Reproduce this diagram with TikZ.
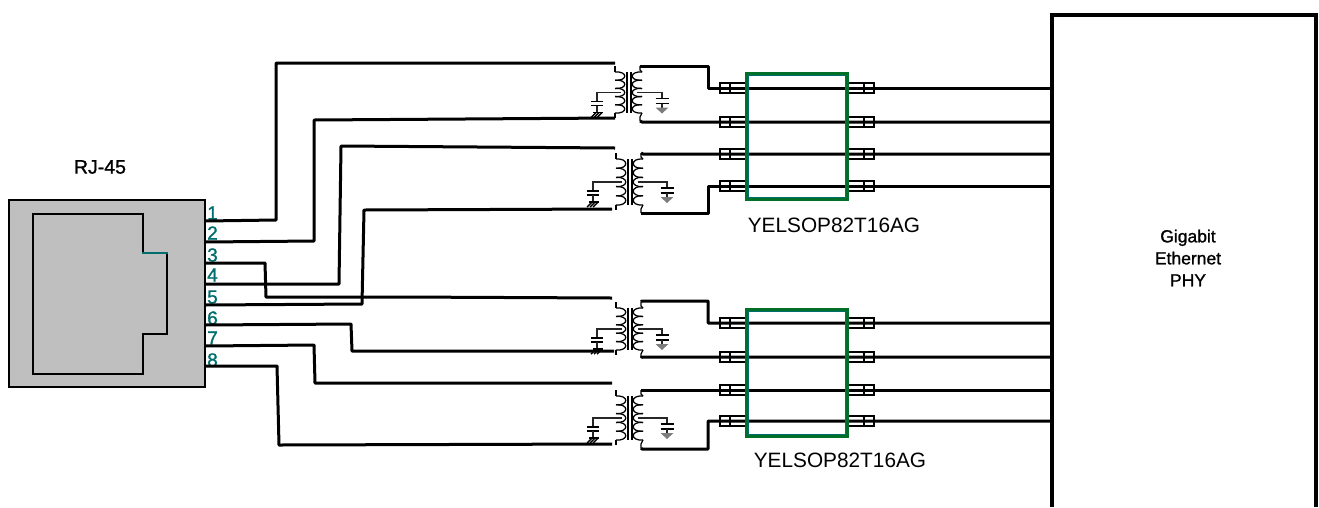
\documentclass[tikz,border=0pt]{standalone}
\usepackage{fontspec}
\setmainfont{Liberation Sans}
\newfontfamily\medfont[FakeBold=1.2]{Liberation Sans}
\definecolor{tealpin}{RGB}{0,110,110}
\definecolor{chipgreen}{RGB}{0,112,40}
\definecolor{gndgrey}{RGB}{125,125,125}
\newcommand{\xfmr}[6]{% name, core x, top y, bottom y, left tap x, right tap x
  \coordinate (#1R) at (#2+11,#3-6);
  \coordinate (#1S) at (#2+11,#4+8);
  \coordinate (#1L) at (#2-14,#3-6);
  \coordinate (#1M) at (#2-14,#4+5);
  \draw[core] (#2-2,#3) -- (#2-2,#4) (#2+2,#3) -- (#2+2,#4);
  \pgfmathsetmacro{\hh}{(#4-#3)/5}
  \foreach \k in {0,...,4}{
    \draw[coil] (#2-14,#3+\k*\hh) .. controls (#2-1,#3+\k*\hh-1) and (#2-1,#3+\k*\hh+\hh+1) .. (#2-14,#3+\k*\hh+\hh);
    \draw[coil] (#2+13,#3+\k*\hh) .. controls (#2,#3+\k*\hh-1) and (#2,#3+\k*\hh+\hh+1) .. (#2+13,#3+\k*\hh+\hh);
  }
  \draw[coil] (#1L) -- (#2-14,#3-2) -- (#2-14,#3);
  \draw[coil] (#2-14,#4) -- (#2-14,#4+2) -- (#1M);
  \draw[coil] (#1R) -- (#2+11,#3-2) -- (#2+13,#3);
  \draw[coil] (#2+13,#4) -- (#2+11,#4+4) -- (#1S);
  \coordinate (#1lt) at (#2-8,{(#3+#4)/2});
  \coordinate (#1rt) at (#2+8,{(#3+#4)/2});
  \coordinate (#1lc) at (#5,{(#3+#4)/2});
  \coordinate (#1rc) at (#6,{(#3+#4)/2});
  \draw[tap] (#1lt) -- (#1lc) -- ++(0,9);
  \draw[tap] (#1rt) -- (#1rc) -- ++(0,6);
  % left capacitor and chassis ground
  \draw[plate] (#5-6,{(#3+#4)/2+9}) -- (#5+6,{(#3+#4)/2+9});
  \draw[plate] (#5-6,{(#3+#4)/2+13}) -- (#5+6,{(#3+#4)/2+13});
  \draw[tap] (#5,{(#3+#4)/2+13}) -- (#5,{(#3+#4)/2+20});
  \draw[hatchl] (#5-4,{(#3+#4)/2+20}) -- (#5+6,{(#3+#4)/2+20});
  \foreach \d in {-3,0,3}{\draw[hatchl] (#5+\d+2,{(#3+#4)/2+20}) -- (#5+\d-3,{(#3+#4)/2+25});}
  % right capacitor and signal ground
  \draw[plate] (#6-6.5,{(#3+#4)/2+6}) -- (#6+6.5,{(#3+#4)/2+6});
  \draw[plate] (#6-6.5,{(#3+#4)/2+11}) -- (#6+6.5,{(#3+#4)/2+11});
  \draw[tap] (#6,{(#3+#4)/2+11}) -- (#6,{(#3+#4)/2+15});
  \fill[gndgrey] (#6-6.5,{(#3+#4)/2+15}) -- (#6+6.5,{(#3+#4)/2+15}) -- (#6,{(#3+#4)/2+21}) -- cycle;
}
\newcommand{\stubs}[2]{% name, y
  \draw[stub] (720,#2-5) rectangle (746,#2+5) (730,#2-5) -- (730,#2+5);
  \draw[stub] (848,#2-5) rectangle (874,#2+5) (864,#2-5) -- (864,#2+5);
  \coordinate (#1) at (1052,#2);
}
\newcommand{\chip}[5]{% name, left, top, right, bottom
  \node[chipbox,minimum width=#4-#2,minimum height=#5-#3] (#1) at ({(#2+#4)/2},{(#3+#5)/2}) {};
  \draw[chipinner] (#2+1.8,#3+1.8) rectangle (#4-1.8,#5-1.8);
}
\tikzset{
  x=1pt,y=-1pt,
  wire/.style={draw=black,line width=3pt,line join=round},
  coil/.style={draw=black,line width=1.25pt},
  core/.style={draw=black,line width=1.3pt},
  tap/.style={draw=black!85,line width=1.2pt},
  hatchl/.style={draw=black,line width=1.4pt},
  plate/.style={draw=black,line width=1.6pt},
  stub/.style={draw=black,line width=1.2pt},
  chipbox/.style={draw=chipgreen,line width=3.2pt,inner sep=0pt,outer sep=0pt,rectangle},
  chipinner/.style={draw=tealpin,line width=1pt},
  pinlabel/.style={text=tealpin,font=\medfont\fontsize{19}{19}\selectfont,inner sep=0pt},
  lbl/.style={font=\medfont\fontsize{17.5}{22}\selectfont,inner sep=0pt,align=center},
  partlbl/.style={font=\fontsize{20.8}{22}\selectfont,inner sep=0pt},
  jack/.style={draw=black,line width=2.4pt,line join=miter},
}
\begin{document}
\begin{tikzpicture}
\useasboundingbox (0,0) rectangle (1319,507);
% RJ-45
\node[rectangle,draw=black,line width=2.2pt,fill=black!25,minimum width=196pt,minimum height=187pt,inner sep=0pt,outer sep=0pt] (rj) at (107,293.5) {};
\draw[jack] (143,253) -- (143,214) -- (33,214) -- (33,374) -- (143,374) -- (143,334) -- (167,334) -- (167,253);
\draw[draw=tealpin,line width=1.8pt] (142,253) -- (167.5,253);
\node[lbl,font=\medfont\fontsize{19.5}{20}\selectfont] (rjl) at (100,167) {RJ-45};
\foreach \n/\y/\ly in {1/221/213,2/242/233,3/263/255,4/284/275,5/305/297,6/325/318,7/346/338,8/366/360}{
  \coordinate (p\n) at (205,\y);
  \node[pinlabel] (pl\n) at (212.5,\ly) {\n};
}
% PHY
\coordinate (phyBL) at (1052,507);
\coordinate (phyBR) at (1316,507);
\draw[draw=black,line width=3.4pt] (phyBL) -- (1052,15) -- (1316,15) -- (phyBR);
\node[lbl] (phyl) at (1188,258) {Gigabit\\Ethernet\\PHY};
% Transformers
\xfmr{ta}{629}{72}{113}{597}{662}
\xfmr{tb}{630}{159}{205}{593}{667}
\xfmr{tc}{630}{308}{350}{597}{662}
\xfmr{td}{630}{396}{440}{593}{667}
% Stubs
\stubs{a1}{88}\stubs{a2}{122}\stubs{a3}{154}\stubs{a4}{186}
\stubs{c1}{323}\stubs{c2}{357}\stubs{c3}{390}\stubs{c4}{421}
% Line side wires
\coordinate (wa) at (615,63); \coordinate (wb) at (615,118);
\coordinate (wc) at (615,148); \coordinate (wd) at (612,209);
\coordinate (we) at (612,298); \coordinate (wf) at (614,351);
\coordinate (wg) at (612,383); \coordinate (wh) at (612,444);
\draw[wire] (p1) -- (276,220) -- (276,63) -- (wa);
\draw[wire] (p2) -- (314,241) -- (314,120) -- (wb);
\draw[wire] (p4) -- (339,284) -- (341,146) -- (wc);
\draw[wire] (p5) -- (362,304) -- (364,210) -- (wd);
\draw[wire] (p3) -- (265,263) -- (266,297) -- (400,297) -- (we);
\draw[wire] (p6) -- (351,324) -- (352,351) -- (wf);
\draw[wire] (p7) -- (314,345) -- (315,383) -- (wg);
\draw[wire] (p8) -- (277,366) -- (279,445) -- (wh);
% PHY side wires
\draw[wire] (taR) -- (708,66) -- (708,88) -- (a1);
\draw[wire] (taS) -- (642,122) -- (a2);
\draw[wire] (tbR) -- (643,154) -- (a3);
\draw[wire] (tbS) -- (642,213) -- (708,213) -- (708,186) -- (a4);
\draw[wire] (tcR) -- (642,301) -- (708,301) -- (708,323) -- (c1);
\draw[wire] (tcS) -- (642,357) -- (c2);
\draw[wire] (tdR) -- (643,390) -- (c3);
\draw[wire] (tdS) -- (642,449) -- (708,449) -- (708,421) -- (c4);
% Chips
\chip{chipa}{747}{74}{847}{199}
\chip{chipc}{747}{310}{847}{436}
\node[partlbl] (parta) at (834,225) {YELSOP82T16AG};
\node[partlbl] (partc) at (840,460) {YELSOP82T16AG};
\end{tikzpicture}
\end{document}
